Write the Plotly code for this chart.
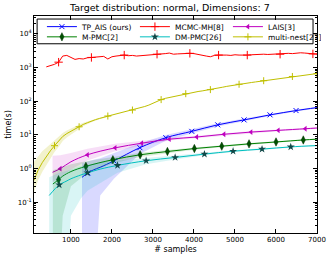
import numpy as np
import plotly.graph_objects as go

# ---------------- data ----------------
# TP_AIS (ours)
tp_x = [1270, 1415, 1550, 1714, 2048, 2681, 3314, 3947, 4580, 5222, 5855, 6489, 7000]
tp_y = [0.55, 0.75, 0.92, 1.1, 1.7, 4.2, 8.3, 12.8, 20, 28, 39.5, 53, 65]
tp_s = [0.9, 0.9, 0.92, 0.94, 1.2, 1.5, 1.6, 1.8, 2.2, 2.6, 3.0, 3.4, 3.8]
tp_mark = [1, 4, 5, 6, 7, 8, 9, 10, 11]

# MCMC-MH[8]
mh_x = list(range(400, 7001, 100))
mh_y = [1050, 1150, 1250, 1450, 2200, 2300, 2050, 1750, 1850, 1800,
        1950, 2000, 2100, 2050, 2150, 1800, 2100, 2200, 2300, 2350,
        2250, 2300, 2200, 2250, 2350, 2300, 2450, 2500, 2450, 2600,
        2700, 2500, 2550, 2600, 2550, 2650, 2600, 2500, 2400, 2200,
        2100, 2300, 2350, 2400, 2350, 2300, 2400, 2350, 2300, 2350,
        2400, 2450, 2400, 2500, 2450, 2500, 2550, 2500, 2600, 2650,
        2600, 2700, 2750, 2700, 2650, 2550, 2500]
mh_mark = [3, 11, 19, 27, 35, 42, 49, 57, 65]

# LAIS[3]
la_x = [552, 740, 1000, 1404, 2079, 2729, 3402, 4070, 4734, 5393, 6057, 6715, 7000]
la_y = [0.78, 1.0, 1.6, 2.58, 4.15, 5.7, 7.5, 8.7, 10.5, 12.2, 13.7, 15.3, 16.1]
la_lo = [0.4, 0.55, 0.95, 1.75, 3.3, 4.9, 6.8, 8.0, 9.7, 11.3, 12.8, 14.4, 15.2]
la_hi = [2.4, 2.5, 2.9, 3.9, 5.5, 6.7, 8.3, 9.5, 11.3, 13.1, 14.6, 16.2, 17.0]
la_mark = [1, 3, 4, 5, 6, 7, 8, 9, 10, 11]

# M-PMC[2]
pm_x = [560, 698, 800, 1000, 1365, 2023, 2688, 3353, 4010, 4678, 5343, 6001, 6666, 7000]
pm_y = [0.35, 0.47, 0.6, 0.82, 1.17, 1.84, 2.58, 3.23, 3.95, 4.65, 5.44, 6.2, 7.1, 7.5]
pm_s = [0.55, 0.56, 0.56, 0.52, 0.48, 0.42, 0.38, 0.35, 0.32, 0.3, 0.3, 0.3, 0.3, 0.3]
pm_mark = [1, 4, 5, 6, 7, 8, 9, 10, 11, 12]

# DM-PMC[26]
dm_x = [471, 715, 880, 1000, 1243, 1404, 1730, 2136, 2834, 3541, 4255, 4954, 5660, 6360, 7000]
dm_y = [0.16, 0.33, 0.42, 0.5, 0.65, 0.75, 0.98, 1.25, 1.72, 2.15, 2.7, 3.3, 3.8, 4.43, 4.85]
dm_s = [0.4, 0.42, 0.43, 0.46, 0.52, 0.53, 0.6, 0.5, 0.38, 0.28, 0.22, 0.2, 0.2, 0.2, 0.2]
dm_mark = [1, 5, 7, 8, 9, 10, 11, 12, 13]

# multi-nest[27]
mn_x = list(range(100, 7001, 100))
mn_y = [0.45, 0.9, 1.5, 2.3, 3.4, 4.8, 6.5, 9.0, 11.0, 13.0,
        15.0, 17.5, 20.5, 23.0, 26.0, 28.5, 31.0, 34.0, 36.5, 39.0,
        42.0, 45.0, 48.0, 51.0, 55.0, 59.0, 64.0, 70.0, 77.0, 88.0,
        100, 112, 122, 130, 138, 147, 158, 168, 176, 185,
        195, 203, 212, 222, 233, 248, 262, 277, 292, 307,
        320, 334, 348, 361, 375, 390, 408, 425, 442, 460,
        480, 500, 520, 545, 565, 585, 605, 625, 645, 665]
mn_mark = [5, 11, 18, 24, 31, 37, 43, 50, 56, 63, 69]
mn_band_x = [100, 200, 300, 400, 500, 600, 700, 800, 900, 1000, 1100, 1200, 1300, 1400, 1500, 1700, 2000]
mn_lo = [0.2, 0.45, 0.8, 1.3, 2.1, 3.1, 4.4, 6.6, 8.4, 10.3, 12.3, 15.0, 18.0, 20.7, 24.0, 29.3, 37.5]
mn_hi = [1.6, 2.4, 3.3, 4.2, 5.4, 6.9, 8.6, 11.4, 13.6, 15.7, 17.7, 20.0, 23.0, 25.3, 28.0, 32.7, 40.5]

# tick labels
x_ticks = [1000, 2000, 3000, 4000, 5000, 6000, 7000]
y_ticks = [0.1, 1, 10, 100, 1000, 10000]
y_ticktext = ["10<sup>-1</sup>", "10<sup>0</sup>", "10<sup>1</sup>", "10<sup>2</sup>",
              "10<sup>3</sup>", "10<sup>4</sup>"]

FLOOR = 1e-4
fig = go.Figure()


def add_band(x, lo, hi, fill):
    fig.add_trace(go.Scatter(x=x, y=lo, mode="lines", line=dict(width=0, color=fill),
                             showlegend=False, hoverinfo="skip"))
    fig.add_trace(go.Scatter(x=x, y=hi, mode="lines", line=dict(width=0, color=fill),
                             fill="tonexty", fillcolor=fill, showlegend=False, hoverinfo="skip"))


def add_series(name, x, y, mark, color, marker, legend, shape="spline"):
    x = np.asarray(x, float)
    y = np.asarray(y, float)
    fig.add_trace(go.Scatter(x=x, y=y, mode="lines", line=dict(color=color, width=1, shape=shape),
                             showlegend=False))
    idx = np.asarray(mark)
    fig.add_trace(go.Scatter(x=x[idx], y=y[idx], mode="markers", marker=marker, showlegend=False))
    fig.add_trace(go.Scatter(x=[None], y=[None], mode="lines+markers", name=name,
                             line=dict(color=color, width=1), marker=marker, legend=legend))


BLUE, RED, MAG, GREEN, CYAN, YEL = "#0000ff", "#ff0000", "#bf00bf", "#008000", "#00bfbf", "#bfbf00"

# TP_AIS
tx, ty, ts = np.array(tp_x, float), np.array(tp_y), np.array(tp_s)
add_band(tx, np.maximum(ty - ts, FLOOR), ty + ts, "rgba(0,0,255,0.15)")
add_series("TP_AIS (ours)", tp_x, tp_y, tp_mark, BLUE,
           dict(symbol="x-thin", size=5, line=dict(color=BLUE, width=1), color=BLUE), "legend")

# MCMC-MH
add_series("MCMC-MH[8]", mh_x, mh_y, mh_mark, RED,
           dict(symbol="cross-thin", size=6, line=dict(color=RED, width=1), color=RED), "legend",
           shape="linear")

# LAIS
add_band(la_x, la_lo, la_hi, "rgba(191,0,191,0.13)")
add_series("LAIS[3]", la_x, la_y, la_mark, MAG,
           dict(symbol="triangle-left", size=5, color=MAG, line=dict(width=0)), "legend")

# M-PMC
px_, py_, ps_ = np.array(pm_x, float), np.array(pm_y), np.array(pm_s)
add_band(px_, np.maximum(py_ - ps_, FLOOR), py_ + ps_, "rgba(0,128,0,0.15)")
add_series("M-PMC[2]", pm_x, pm_y, pm_mark, GREEN,
           dict(symbol="diamond-tall", size=6, color="#005000", line=dict(color="#003000", width=0.5)),
           "legend2")

# DM-PMC
dx, dy, ds = np.array(dm_x, float), np.array(dm_y), np.array(dm_s)
add_band(dx, np.maximum(dy - ds, FLOOR), dy + ds, "rgba(0,191,191,0.15)")
add_series("DM-PMC[26]", dm_x, dm_y, dm_mark, CYAN,
           dict(symbol="star", size=6, color="#104848", line=dict(width=0)), "legend2")

# multi-nest
add_band(mn_band_x, mn_lo, mn_hi, "rgba(191,191,0,0.2)")
add_series("multi-nest[27]", mn_x, mn_y, mn_mark, YEL,
           dict(symbol="cross-thin", size=5, line=dict(color=YEL, width=1), color=YEL), "legend2",
           shape="linear")

FONT = "DejaVu Sans"
axis_common = dict(showline=True, linecolor="black", linewidth=1, mirror="ticks",
                   ticks="inside", ticklen=4, tickcolor="black", showgrid=False, zeroline=False,
                   automargin=False,
                   tickfont=dict(family=FONT, size=7, color="black"))

legend_common = dict(orientation="h", x=0.028, xanchor="left", yanchor="middle",
                     bgcolor="rgba(0,0,0,0)", borderwidth=0, entrywidth=48,
                     traceorder="normal", font=dict(family=FONT, size=7.5, color="black"),
                     tracegroupgap=0, itemwidth=30)

fig.update_layout(
    width=332, height=259,
    margin=dict(l=34, r=15, t=14, b=26),
    paper_bgcolor="white", plot_bgcolor="white",
    font=dict(family=FONT, size=8, color="black"),
    title=dict(text="Target distribution: normal, Dimensions: 7", xref="paper", x=0.48,
               xanchor="center", yref="container", y=0.972, yanchor="middle",
               font=dict(family=FONT, size=9.5, color="black")),
    xaxis=dict(range=[100, 7000], tickvals=x_ticks,
               title=dict(text="# samples", font=dict(family=FONT, size=8), standoff=2),
               **axis_common),
    yaxis=dict(type="log", range=[np.log10(0.0123), np.log10(34000)], tickvals=y_ticks,
               ticktext=y_ticktext,
               minor=dict(ticks="inside", ticklen=2, dtick="D1", tickcolor="black", showgrid=False),
               title=dict(text="time(s)", font=dict(family=FONT, size=8), standoff=4),
               **axis_common),
    legend=dict(y=0.951, **legend_common),
    legend2=dict(y=0.904, **legend_common),
    shapes=[dict(type="rect", xref="paper", yref="paper", x0=0.011, x1=0.986, y0=0.872, y1=0.986,
                 line=dict(color="black", width=1), fillcolor="white", layer="below")],
    showlegend=True,
)

fig.write_html("out.html", config={"displayModeBar": False},
               post_script="document.body.style.margin='0px';")
